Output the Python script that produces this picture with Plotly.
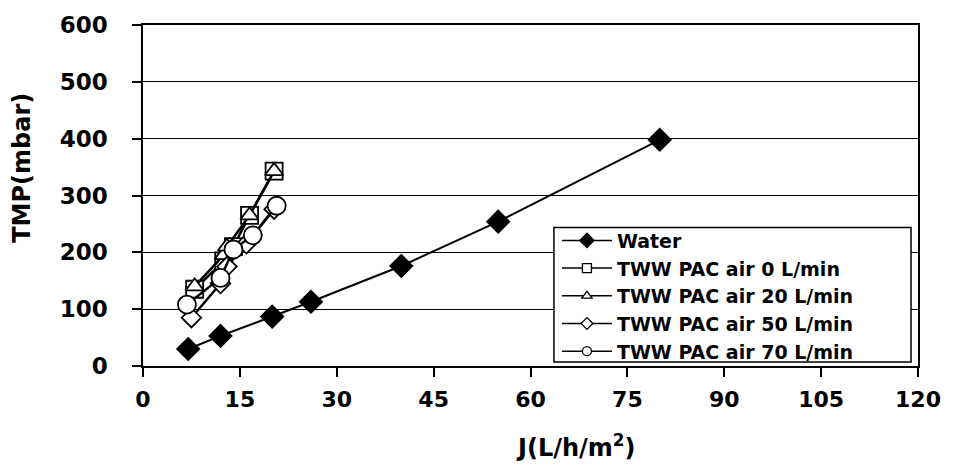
import plotly.graph_objects as go

# ---- data ----
water_J = [7, 12, 20, 26, 40, 55, 80]
water_TMP = [30, 53, 87, 113, 176, 254, 398]

air0_J = [8, 12.5, 14, 16.5, 20.3]
air0_TMP = [135, 185, 210, 265, 343]

air20_J = [8, 12.5, 13, 16.5, 20.3]
air20_TMP = [140, 195, 210, 265, 343]

air50_J = [7.5, 12, 13, 16, 20.3]
air50_TMP = [85, 145, 175, 215, 276]

air70_J = [6.8, 12, 14, 17, 20.7]
air70_TMP = [108, 155, 205, 230, 282]

names = ["Water", "TWW PAC air 0 L/min", "TWW PAC air 20 L/min",
         "TWW PAC air 50 L/min", "TWW PAC air 70 L/min"]
x_ticks = [0, 15, 30, 45, 60, 75, 90, 105, 120]
y_ticks = [0, 100, 200, 300, 400, 500, 600]

FONT = "DejaVu Sans, Liberation Sans, Arial, sans-serif"

fig = go.Figure()

series = [
    (water_J, water_TMP, "diamond", "black", 17, 2),
    (air0_J, air0_TMP, "square", "white", 17, 2.5),
    (air20_J, air20_TMP, "triangle-up", "white", 16, 2.5),
    (air50_J, air50_TMP, "diamond", "white", 15, 2.5),
    (air70_J, air70_TMP, "circle", "white", 18, 2.5),
]
for (xs, ys, sym, fill, size, lw), name in zip(series, names):
    fig.add_trace(go.Scatter(
        x=xs, y=ys, mode="lines+markers", name=name, showlegend=False,
        line=dict(color="black", width=lw),
        marker=dict(symbol=sym, color=fill, size=size,
                    line=dict(color="black", width=1.8)),
    ))
# legend entries (smaller symbols, like the reference)
for (xs, ys, sym, fill, size, lw), name in zip(series, names):
    fig.add_trace(go.Scatter(
        x=[None], y=[None], mode="lines+markers", name=name,
        line=dict(color="black", width=1.5),
        marker=dict(symbol=sym, color=fill, size=11 if (sym == "diamond" and fill == "black") else 9,
                    line=dict(color="black", width=1.3)),
    ))

# plot area spans x 143..920 px, y 19..366 px
def px_x(p):
    return (p - 143) / 777.0

def px_y(p):
    return (366 - p) / 347.0

fig.update_layout(
    width=953, height=473,
    margin=dict(l=143, r=33, t=19, b=107),
    paper_bgcolor="white", plot_bgcolor="white",
    font=dict(family=FONT, color="black"),
    showlegend=True,
    legend=dict(
        x=px_x(558), y=px_y(219), xanchor="left", yanchor="top",
        bgcolor="rgba(0,0,0,0)", borderwidth=0,
        font=dict(family=FONT, size=19, color="black", weight="bold"),
        itemwidth=50, tracegroupgap=0,
    ),
    shapes=[
        dict(type="rect", xref="paper", yref="paper",
             x0=px_x(555), x1=px_x(913), y0=px_y(362), y1=px_y(225),
             line=dict(color="black", width=1.5), fillcolor="white",
             layer="above"),
    ],
    xaxis=dict(
        range=[0, 120], tickvals=x_ticks, ticks="outside", ticklen=9,
        tickwidth=1.5, tickcolor="black",
        showline=True, linecolor="black", linewidth=1.5, mirror=True,
        showgrid=False, zeroline=False,
        tickfont=dict(family=FONT, size=22, color="black", weight="bold"),
        ticklabelstandoff=4,
    ),
    yaxis=dict(
        range=[0, 600], tickvals=y_ticks, ticks="outside", ticklen=9,
        tickwidth=1.5, tickcolor="black",
        showline=True, linecolor="black", linewidth=1.5, mirror=True,
        showgrid=True, gridcolor="black", gridwidth=1,
        zeroline=False,
        tickfont=dict(family=FONT, size=23, color="black", weight="bold"),
        ticklabelstandoff=20,
    ),
    annotations=[
        dict(text="TMP(mbar)", textangle=-90, xref="paper", yref="paper",
             x=px_x(22), y=px_y(164), xanchor="center", yanchor="middle",
             showarrow=False,
             font=dict(family=FONT, size=24, color="black", weight="bold")),
        dict(text="J(L/h/m<sup>2</sup>)", xref="paper", yref="paper",
             x=px_x(577), y=px_y(447), xanchor="center", yanchor="middle",
             showarrow=False,
             font=dict(family=FONT, size=24, color="black", weight="bold")),
    ],
)

fig.write_html("out.html")
